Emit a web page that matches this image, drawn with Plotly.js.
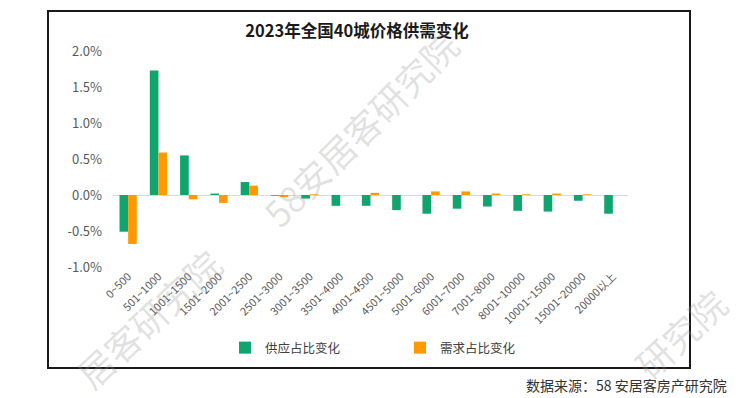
<!DOCTYPE html>
<html><head><meta charset="utf-8">
<script src="https://cdn.plot.ly/plotly-3.0.1.min.js"></script>
<style>html,body{margin:0;padding:0;background:#fff}#chart{width:740px;height:398px}</style>
</head><body><div id="chart"></div>
<script>
const categories = ["0~500","501~1000","1001~1500","1501~2000","2001~2500","2501~3000","3001~3500","3501~4000","4001~4500","4501~5000","5001~6000","6001~7000","7001~8000","8001~10000","10001~15000","15001~20000","20000以上"];
const supplyChange = [-0.51,1.73,0.55,0.02,0.18,-0.01,-0.05,-0.15,-0.15,-0.21,-0.26,-0.19,-0.16,-0.22,-0.23,-0.08,-0.26];
const demandChange = [-0.68,0.59,-0.06,-0.11,0.13,-0.03,0.01,0.00,0.03,0.00,0.05,0.05,0.02,0.01,0.02,0.01,0.00];
const yTickVals = [-1,-0.5,0,0.5,1,1.5,2];
const yTickText = ["-1.0%","-0.5%","0.0%","0.5%","1.0%","1.5%","2.0%"];
const seriesNames = ["供应占比变化","需求占比变化"];
const titleText = "2023年全国40城价格供需变化";
const sourceText = "数据来源：58 安居客房产研究院";
const watermarks = ["58安居客研究院","居客研究院","研究院"];

const font = "'Noto Sans CJK SC', 'Noto Sans', sans-serif";
const W = 515, H = 216, L = 113, T = 51;
const px = x => (x - L) / W;
const py = y => (T + H - y) / H;
const wmFont = {size:36, color:'rgba(150,150,150,0.28)', family:font};
const traces = [
  {type:'bar', name:seriesNames[0], x:categories, y:supplyChange, marker:{color:'#10A56E'}},
  {type:'bar', name:seriesNames[1], x:categories, y:demandChange, marker:{color:'#FF9900'}}
];
const layout = {
  width:740, height:398,
  margin:{l:113, r:112, t:51, b:131},
  paper_bgcolor:'#fff', plot_bgcolor:'rgba(0,0,0,0)',
  font:{family:font, color:'#595959', size:12},
  title:{text:'<b>'+titleText+'</b>', x:0.4825, xanchor:'center', y:1-31/398, yanchor:'middle', font:{family:font, size:16.5, color:'#1a1a1a'}},
  barmode:'group', bargap:0.43, bargroupgap:0,
  xaxis:{type:'category', tickangle:-45, tickfont:{size:11, color:'#595959'}, showgrid:false, showline:false, ticks:'', zeroline:false, automargin:false},
  yaxis:{range:[-1,2], tickvals:yTickVals, ticktext:yTickText, showgrid:false, zeroline:true, zerolinecolor:'#d9d9d9', zerolinewidth:1, showline:false, ticks:'', ticklabelstandoff:10, tickfont:{size:13, color:'#595959'}, automargin:false},
  showlegend:true,
  legend:{orientation:'h', x:px(225), xanchor:'left', y:py(348), yanchor:'middle', entrywidth:130, font:{size:12.5, color:'#404040'}, itemwidth:30},
  shapes:[{type:'rect', xref:'paper', yref:'paper', x0:px(48), x1:px(690), y0:py(368), y1:py(11), line:{color:'#1a1a1a', width:2}, fillcolor:'rgba(0,0,0,0)', layer:'below'}],
  annotations:[
    {text:sourceText, xref:'paper', yref:'paper', x:px(729), y:py(385), xanchor:'right', yanchor:'middle', showarrow:false, font:{size:14, color:'#333'}},
    {text:watermarks[0], xref:'paper', yref:'paper', x:px(360), y:py(128), xanchor:'center', yanchor:'middle', showarrow:false, textangle:-45, font:wmFont},
    {text:watermarks[1], xref:'paper', yref:'paper', x:px(148), y:py(318), xanchor:'center', yanchor:'middle', showarrow:false, textangle:-43, font:wmFont},
    {text:watermarks[2], xref:'paper', yref:'paper', x:px(680), y:py(333), xanchor:'center', yanchor:'middle', showarrow:false, textangle:-43, font:wmFont}
  ]
};
Plotly.newPlot('chart', traces, layout, {displayModeBar:false, staticPlot:true});
</script></body></html>
